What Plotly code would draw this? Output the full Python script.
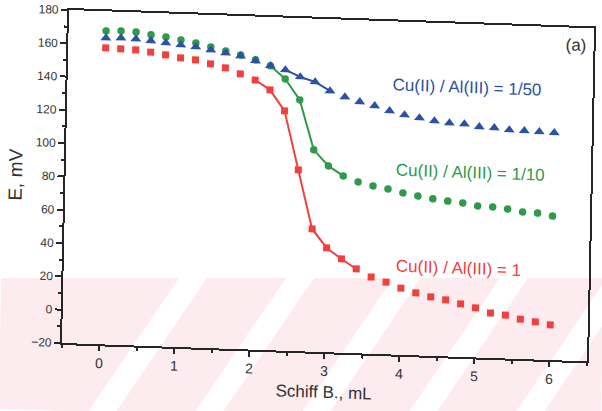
import plotly.graph_objects as go

# Titrant volume (Schiff base, mL)
volume_ml = [0.0, 0.2, 0.4, 0.6, 0.8, 1.0, 1.2, 1.4, 1.6, 1.8, 2.0, 2.2, 2.4, 2.6, 2.8,
             3.0, 3.2, 3.4, 3.6, 3.8, 4.0, 4.2, 4.4, 4.6, 4.8, 5.0, 5.2, 5.4, 5.6, 5.8, 6.0]

# Potential E (mV) for each Cu(II)/Al(III) ratio
e_ratio_1 = [158.0, 157.7, 157.4, 156.5, 155.1, 153.6, 152.7, 150.6, 148.5, 145.2, 141.9,
             136.3, 124.0, 88.8, 53.7, 42.6, 36.3, 30.6, 26.1, 23.4, 20.1, 17.5, 15.4,
             13.9, 11.8, 9.7, 7.0, 6.1, 4.0, 2.6, 1.1]
e_ratio_10 = [168.2, 168.5, 168.2, 166.8, 165.9, 164.4, 162.9, 160.8, 158.7, 156.6, 154.0,
              150.7, 143.2, 130.9, 101.2, 91.9, 86.2, 82.9, 80.8, 79.3, 77.2, 75.7, 74.3,
              73.3, 72.5, 71.0, 70.7, 69.8, 68.3, 68.0, 66.5]
e_ratio_50 = [164.0, 164.3, 164.0, 163.2, 162.3, 161.4, 160.5, 159.0, 157.5, 156.0, 153.4,
              150.7, 148.6, 144.7, 142.0, 136.9, 133.6, 131.0, 128.9, 126.2, 124.1, 122.6,
              121.1, 120.2, 119.9, 118.5, 118.2, 117.3, 117.1, 116.8, 116.5]

# Index ranges where the points are joined by a line (the jump region)
jump_1 = (10, 18)
jump_10 = (11, 17)
jump_50 = (12, 16)

series_labels = ["Cu(II) / Al(III) = 1", "Cu(II) / Al(III) = 1/10", "Cu(II) / Al(III) = 1/50"]
x_ticks = [0, 1, 2, 3, 4, 5, 6]
y_ticks = [-20, 0, 20, 40, 60, 80, 100, 120, 140, 160, 180]

RED, GREEN, BLUE = "#f2403f", "#2e9a4a", "#2c53a3"
AXIS = "#262626"
FONT = "Liberation Sans, Arial, sans-serif"

W, H = 602, 411
ML, MR, MT, MB = 62, 15, 10, 68
PW, PH = W - ML - MR, H - MT - MB
# slight skew of the sheet (horizontal lines drop, vertical lines lean)
SKEW_H, SKEW_V = 0.035, 0.021

fig = go.Figure()

def add_series(y, color, symbol, size, span):
    a, b = span
    fig.add_trace(go.Scatter(x=volume_ml[a:b], y=y[a:b], mode="lines",
                             line=dict(color=color, width=2), showlegend=False,
                             hoverinfo="skip"))
    fig.add_trace(go.Scatter(x=volume_ml, y=y, mode="markers",
                             marker=dict(color=color, symbol=symbol, size=size,
                                         line=dict(width=0)),
                             showlegend=False))

add_series(e_ratio_1, RED, "square", 7, jump_1)
add_series(e_ratio_10, GREEN, "circle", 7.5, jump_10)
add_series(e_ratio_50, BLUE, "triangle-up", 9.5, jump_50)

# series labels and panel tag
for text, x, y, color in [(series_labels[2], 4.83, 141.6, BLUE),
                          (series_labels[1], 4.89, 90.6, GREEN),
                          (series_labels[0], 4.76, 33.3, RED),
                          ("(a)", 6.27, 169.7, "#333333")]:
    fig.add_annotation(x=x, y=y, xref="x", yref="y", text=text, showarrow=False,
                       font=dict(family=FONT, size=17, color=color),
                       xanchor="center", yanchor="middle")


def screen_to_paper(px, py):
    X, Y = px - ML, py - (MT + PH)
    dx = (X + SKEW_V * Y) / (1 + SKEW_V * SKEW_H)
    dy = Y - SKEW_H * dx
    return dx / PW, -dy / PH


def poly_path(points):
    pts = [screen_to_paper(px, py) for px, py in points]
    return "M " + " L ".join(f"{x:.4f},{y:.4f}" for x, y in pts) + " Z"


# pale pink diagonal stripe pattern across the lower part of the page
shapes = [dict(type="path", xref="paper", yref="paper", layer="below",
               path=poly_path([(-20, 278), (625, 278), (625, 425), (-20, 425)]),
               fillcolor="#fdecef", line=dict(width=0))]
for a in [113, 220, 327, 434, 541]:
    w = 28
    shapes.append(dict(type="path", xref="paper", yref="paper", layer="below",
                       path=poly_path([(a + 66, 278), (a + 66 + w, 278),
                                       (a - 34 + w, 425), (a - 34, 425)]),
                       fillcolor="#ffffff", line=dict(width=0)))

fig.update_layout(
    width=W, height=H,
    margin=dict(l=ML, r=MR, t=MT, b=MB, autoexpand=False),
    paper_bgcolor="#ffffff", plot_bgcolor="rgba(0,0,0,0)",
    font=dict(family=FONT, color="#333333"),
    shapes=shapes,
    xaxis=dict(range=[-0.5, 6.5], tickvals=x_ticks, ticks="outside", ticklen=5,
               tickwidth=1.5, tickcolor=AXIS, showline=True, linewidth=2,
               linecolor=AXIS, mirror=True, showgrid=False, zeroline=False,
               automargin=False,
               tickfont=dict(size=14, color="#333333"),
               minor=dict(dtick=0.5, ticks="outside", ticklen=3, tickwidth=1.5,
                          tickcolor=AXIS, showgrid=False),
               title=dict(text="Schiff B., mL", font=dict(size=17, color="#333333"),
                          standoff=8)),
    yaxis=dict(range=[-20, 180], tickvals=y_ticks, ticks="outside", ticklen=6,
               tickwidth=1.5, tickcolor=AXIS, showline=True, linewidth=2,
               linecolor=AXIS, mirror=True, showgrid=False, zeroline=False,
               automargin=False,
               tickfont=dict(size=12, color="#333333"),
               minor=dict(dtick=10, ticks="outside", ticklen=3, tickwidth=1.5,
                          tickcolor=AXIS, showgrid=False),
               title=dict(text="E, mV", font=dict(size=19, color="#333333"),
                          standoff=7)),
)

skew_js = (
    "document.body.style.margin='0';"
    "var d=document.getElementById('{plot_id}');"
    f"d.style.transformOrigin='{ML}px {MT + PH}px';"
    f"d.style.transform='matrix(1,{SKEW_H},{-SKEW_V},1,0,0)';"
)

fig.write_html("out.html", config={"displayModeBar": False}, post_script=skew_js)
